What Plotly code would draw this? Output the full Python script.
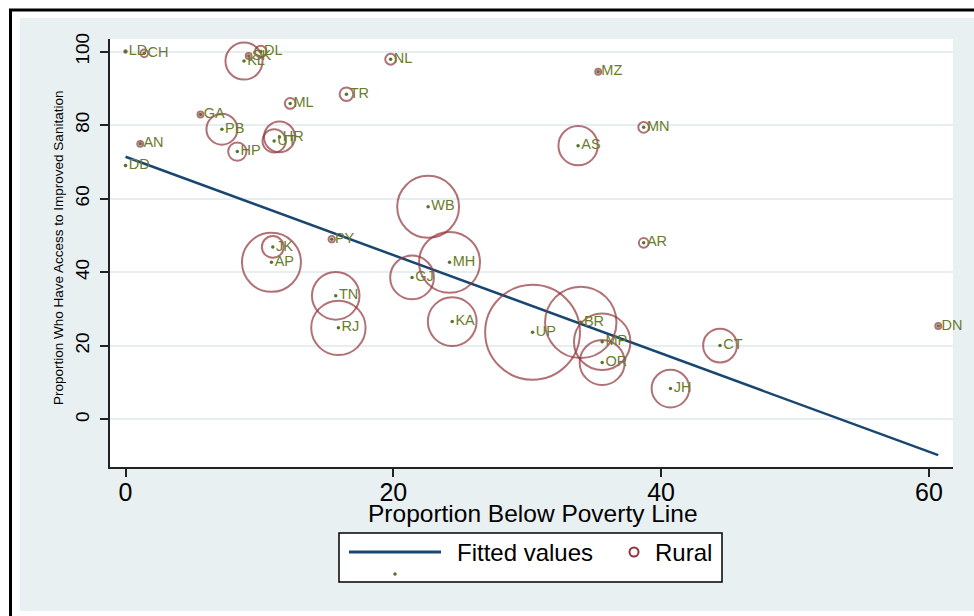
import numpy as np
import plotly.graph_objects as go

# ---------------- data ----------------
states = ["LD", "CH", "SK", "DL", "KL", "GA", "ML", "PB", "AN", "HP", "HR", "UT",
          "DD", "TR", "NL", "MZ", "MN", "AS", "PY", "JK", "AP", "TN", "RJ", "WB",
          "AR", "MH", "GJ", "KA", "UP", "BR", "MP", "OR", "CT", "JH", "DN"]
poverty = [0.0, 1.4, 9.2, 10.1, 8.85, 5.6, 12.3, 7.2, 1.1, 8.35, 11.5, 11.1,
           0.0, 16.5, 19.8, 35.3, 38.7, 33.8, 15.4, 11.0, 10.9, 15.7, 15.9, 22.6,
           38.7, 24.2, 21.4, 24.4, 30.4, 34.0, 35.6, 35.6, 44.4, 40.7, 60.7]
sanitation = [100.0, 99.5, 98.8, 100.0, 97.4, 82.9, 85.9, 78.9, 74.9, 72.8, 76.8, 75.7,
              69.0, 88.4, 97.9, 94.5, 79.4, 74.4, 49.0, 46.9, 42.7, 33.6, 24.9, 57.8,
              48.0, 42.7, 38.6, 26.6, 23.7, 26.4, 21.1, 15.5, 20.1, 8.4, 25.4]
rural = [0.1, 1.0, 0.6, 2.3, 23.7, 0.6, 2.0, 16.5, 0.6, 5.8, 16.5, 9.3,
         0.03, 3.2, 2.0, 0.6, 2.0, 26.6, 0.7, 8.2, 60.0, 39.0, 51.0, 66.0,
         1.6, 64.0, 33.0, 41.0, 155.0, 88.0, 55.0, 35.0, 19.7, 24.5, 0.6]

x_ticks = [0, 20, 40, 60]
y_ticks = [0, 20, 40, 60, 80, 100]
x_title = "Proportion Below Poverty Line"
y_title = "Proportion Who Have Access to Improved Sanitation"
legend_labels = ["Fitted values", "Rural"]

# ---------------- styling ----------------
W, H = 974, 616
ML, MR, MT, MB = 110, 21, 39, 149
PW, PH = W - ML - MR, H - MT - MB
FONT = "Liberation Sans, Arial, sans-serif"
NAVY = "#1a476f"
MAROON = "#90353b"
GREEN = "#55752f"
LABEL = "#6b7b2c"
BG = "#e8f0f2"

def px_x(p):
    return (p - ML) / PW

def px_y(p):
    return (H - MB - p) / PH

x = np.array(poverty)
y = np.array(sanitation)
w = np.array(rural)

# weighted linear fit (analytic weights = rural population)
slope, intercept = np.polyfit(x, y, 1, w=np.sqrt(w))
fx = np.array([x.min(), x.max()])
fy = intercept + slope * fx

fig = go.Figure()
fig.add_trace(go.Scatter(x=fx, y=fy, mode="lines", name=legend_labels[0],
                         line=dict(color=NAVY, width=2.5), showlegend=False))
fig.add_trace(go.Scatter(x=x, y=y, mode="markers", name=legend_labels[1],
                         marker=dict(symbol="circle-open", size=w, sizemode="area",
                                     sizeref=1 / 29.0, sizemin=0, color=MAROON,
                                     line=dict(color=MAROON, width=2)),
                         showlegend=False))
fig.add_trace(go.Scatter(x=x, y=y, mode="markers+text", text=states,
                         textposition="middle right", cliponaxis=False,
                         textfont=dict(family=FONT, size=14.5, color=LABEL),
                         marker=dict(symbol="circle", size=3.5, color=GREEN),
                         showlegend=False))

shapes = [
    # outer light background, white plot region and black frame lines
    dict(type="rect", xref="paper", yref="paper", x0=px_x(20), x1=px_x(W + 5),
         y0=px_y(611), y1=px_y(18), fillcolor=BG, line=dict(width=0), layer="below"),
    dict(type="rect", xref="paper", yref="paper", x0=0, x1=1, y0=0, y1=1,
         fillcolor="white", line=dict(width=0), layer="below"),
    dict(type="line", xref="paper", yref="paper", x0=px_x(10.5), x1=px_x(10.5),
         y0=px_y(10), y1=px_y(H + 5), line=dict(color="black", width=3)),
    dict(type="line", xref="paper", yref="paper", x0=px_x(9), x1=px_x(W + 5),
         y0=px_y(10), y1=px_y(10), line=dict(color="black", width=3)),
    # legend box
    dict(type="rect", xref="paper", yref="paper", x0=px_x(339), x1=px_x(722),
         y0=px_y(582), y1=px_y(533), fillcolor="white", line=dict(color="black", width=1.5)),
    dict(type="line", xref="paper", yref="paper", x0=px_x(349), x1=px_x(441),
         y0=px_y(552), y1=px_y(552), line=dict(color=NAVY, width=3)),
    dict(type="circle", xref="paper", yref="paper", x0=px_x(629.5), x1=px_x(638.5),
         y0=px_y(556.5), y1=px_y(547.5), line=dict(color=MAROON, width=2)),
    dict(type="circle", xref="paper", yref="paper", x0=px_x(393.5), x1=px_x(396.5),
         y0=px_y(575.5), y1=px_y(572.5), fillcolor=GREEN, line=dict(color=GREEN, width=0.5)),
]

annotations = [
    dict(xref="paper", yref="paper", x=px_x(455), y=px_y(552), text=legend_labels[0],
         showarrow=False, xanchor="left", yanchor="middle",
         font=dict(family=FONT, size=24, color="black")),
    dict(xref="paper", yref="paper", x=px_x(653), y=px_y(552), text=legend_labels[1],
         showarrow=False, xanchor="left", yanchor="middle",
         font=dict(family=FONT, size=24, color="black")),
    # axis titles
    dict(xref="paper", yref="paper", x=px_x(532.5), y=px_y(513), text=x_title,
         showarrow=False, xanchor="center", yanchor="middle",
         font=dict(family=FONT, size=24.5, color="black")),
    dict(xref="paper", yref="paper", x=px_x(58), y=px_y(248), text=y_title,
         showarrow=False, xanchor="center", yanchor="middle", textangle=-90,
         font=dict(family=FONT, size=13.5, color="black")),
]

fig.update_layout(
    width=W, height=H,
    margin=dict(l=ML, r=MR, t=MT, b=MB, pad=0),
    paper_bgcolor="white", plot_bgcolor="white",
    font=dict(family=FONT, color="black"),
    shapes=shapes, annotations=annotations,
    showlegend=False,
)
fig.update_xaxes(
    range=[-1.158, 61.80], tickvals=x_ticks, ticks="outside", ticklen=8, tickwidth=1.5,
    tickcolor="#222", showline=True, linecolor="#222", linewidth=1.5,
    showgrid=False, zeroline=False, tickfont=dict(family=FONT, size=25),
    ticklabelstandoff=-6,
)
fig.update_yaxes(
    range=[-12.91, 103.4], tickvals=y_ticks, tickangle=-90, ticks="outside", ticklen=8,
    tickwidth=1.5, tickcolor="#222", showline=True, linecolor="#222", linewidth=1.5,
    showgrid=True, gridcolor="#e6eef0", gridwidth=2, zeroline=False,
    tickfont=dict(family=FONT, size=19), ticklabelstandoff=4,
)

fig.write_html("out.html", config={"displayModeBar": False},
               post_script="document.body.style.margin='0';document.body.style.overflow='hidden';")
